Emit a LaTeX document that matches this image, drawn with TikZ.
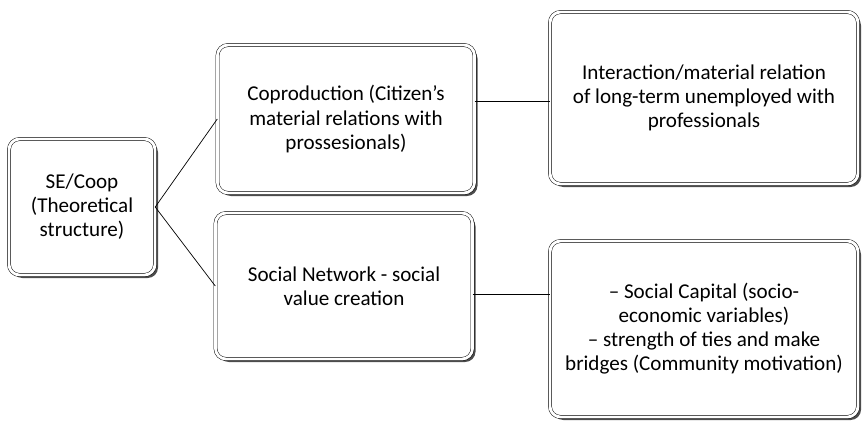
\documentclass[tikz,border=0pt]{standalone}
\usepackage{fontspec}
\setmainfont{Carlito}
\usepackage{tikz}
\usetikzlibrary{shadows}
\tikzstyle{node:card}=[draw, double, double distance=2.4pt, rounded corners=9pt, fill=white, align=center, font=\fontsize{18}{20.5}\selectfont, drop shadow={shadow xshift=2.6pt, shadow yshift=-2.6pt, fill=black!70, opacity=1}]
\tikzstyle{draw:link}=[line width=0.6pt]

\begin{document}
\begin{tikzpicture}[x=0.03cm, y=-0.03cm]
        \useasboundingbox (0,0) rectangle (864,423);

        % Root
        \node[node:card, minimum width=146*0.03cm, minimum height=136*0.03cm] (coop) at (82,207) {SE/Coop\\(Theoretical\\structure)};

        % Second level
        \node[node:card, minimum width=257*0.03cm, minimum height=148*0.03cm] (coprod) at (346,119) {Coproduction (Citizen’s\\material relations with\\prossesionals)};
        \node[node:card, minimum width=257*0.03cm, minimum height=146*0.03cm] (network) at (344,286) {Social Network - social\\value creation};

        % Third level
        \node[node:card, minimum width=308*0.03cm, minimum height=172*0.03cm] (interact) at (704,98) {Interaction/material relation\\of long-term unemployed with\\professionals};
        \node[node:card, minimum width=308*0.03cm, minimum height=176*0.03cm] (capital) at (704,329) {-- Social Capital (socio-\\economic variables)\\-- strength of ties and make\\bridges (Community motivation)};

        % Connections
        \draw[draw:link] (coop.east) -- (coprod.west);
        \draw[draw:link] (coop.east) -- (network.west);
        \draw[draw:link] ([yshift=-0.1cm]interact.west -| coprod.east) -- ([yshift=-0.1cm]interact.west);
        \draw[draw:link] ([yshift=-0.24cm]network.east) -- ([yshift=-0.24cm]network.east -| capital.west);

\end{tikzpicture}
\end{document}
